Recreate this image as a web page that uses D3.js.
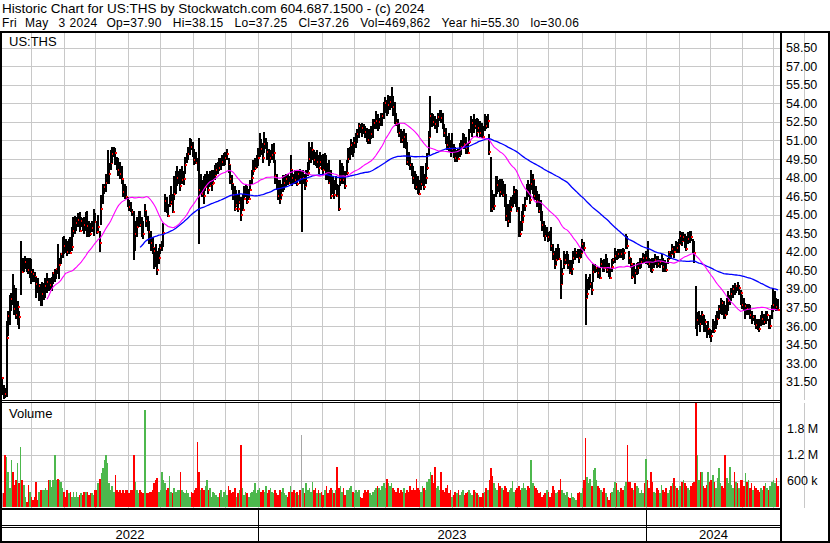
<!DOCTYPE html>
<html><head><meta charset="utf-8">
<script src="https://cdn.jsdelivr.net/npm/d3@7"></script>
<style>
html,body{margin:0;padding:0;background:#fff;}
svg{display:block;}
text{font-family:"Liberation Sans",Arial,sans-serif;font-size:13px;fill:#000;}
</style></head><body>
<svg id="chart" width="830" height="543"></svg>
<script>
// ---------- DATA ----------
const headerLine1 = "Historic Chart for US:THS by Stockwatch.com 604.687.1500 - (c) 2024";
const headerLine2Fields = ["Fri", "May", "3", "2024", "Op=37.90", "Hi=38.15", "Lo=37.25", "Cl=37.26", "Vol=469,862", "Year hi=55.30", "lo=30.06"];
const symbol = "US:THS";
// trading days shown per month, May 2022 .. May 2024
const tradingDaysPerMonth = [19,21,20,21,21,21,21,21, 21,20,21,20,22,21,20,22,20,22,21,20,21,20, 21,20,20,22,3];
const yearLabels = ["2022","2023","2024"];
const yearFirstMonth = [0, 8, 20];
const priceTicks = [31.5,33,34.5,36,37.5,39,40.5,42,43.5,45,46.5,48,49.5,51,52.5,54,55.5,57,58.5];
const volumeTicks = [600000,1200000,1800000];
const volumeTickLabels = ["600 k","1.2 M","1.8 M"];
const maShortPeriod = 30, maLongPeriod = 90;

const highs = [
31.9,31.2,31.0,36.4,37.2,38.5,38.7,40.2,39.3,39.1,
38.0,37.2,42.9,41.5,41.5,41.7,41.5,41.5,41.5,41.4,
40.6,40.4,40.0,39.9,39.4,39.4,39.6,39.5,39.9,40.3,
39.9,39.9,40.0,40.4,40.6,40.6,42.6,41.5,41.9,43.2,
43.3,43.0,42.9,43.0,43.2,44.0,44.8,44.9,44.8,45.1,
45.2,44.8,44.7,44.8,45.2,45.3,44.5,44.3,44.5,45.5,
45.1,44.5,45.0,43.7,46.6,47.5,47.5,48.3,50.2,49.2,
50.2,50.5,50.5,50.4,49.7,49.6,49.3,48.9,47.8,47.5,
47.3,46.4,46.2,46.0,45.5,45.3,44.5,44.8,45.3,45.3,
44.8,44.5,45.9,45.3,44.9,44.5,43.7,43.2,42.3,42.6,
42.1,42.3,42.6,42.9,44.3,46.7,46.4,45.9,46.6,47.3,
46.7,48.1,48.5,48.9,48.5,48.7,48.9,48.5,49.7,50.0,
50.5,51.2,51.1,50.9,50.3,50.1,49.6,51.2,48.3,47.8,
48.1,48.3,48.5,48.3,48.5,48.6,48.6,49.0,49.2,49.3,
49.6,49.6,49.8,50.0,50.1,50.3,49.6,49.0,48.2,47.5,
47.3,47.0,46.6,47.0,46.4,46.7,47.3,47.5,47.3,47.1,
47.8,48.6,49.4,49.6,49.8,50.4,51.6,51.1,50.8,51.7,
51.2,50.9,50.3,50.2,50.7,50.8,49.4,48.3,47.8,47.8,
47.5,48.2,48.2,48.3,48.3,48.1,49.8,48.6,48.3,48.6,
48.5,48.6,48.7,48.5,48.6,48.3,48.6,49.3,50.9,50.5,
50.9,50.2,50.1,50.2,49.8,50.1,49.8,49.9,50.0,49.8,
49.2,49.4,48.6,48.1,47.8,48.1,47.5,47.4,49.4,49.2,
48.9,48.5,49.4,50.4,50.5,51.1,50.9,51.3,51.6,51.9,
52.4,52.3,52.4,52.3,52.2,52.0,51.9,51.9,52.2,52.7,
52.7,53.4,53.1,52.8,53.2,53.2,54.1,54.5,54.3,54.7,
54.6,55.3,54.6,54.1,53.2,52.7,52.4,51.9,51.8,51.9,
51.6,50.9,50.1,49.7,49.2,48.9,48.5,48.3,48.1,47.8,
48.9,48.9,48.3,49.2,50.0,51.8,54.6,53.2,53.1,53.0,
52.7,53.2,53.5,53.5,53.2,52.3,52.0,51.4,51.6,51.0,
51.6,50.7,50.5,50.2,50.3,50.8,51.0,51.6,51.5,51.3,
50.8,51.9,53.0,52.7,53.1,52.7,52.8,52.7,52.6,52.4,
52.2,53.1,53.0,53.1,51.5,49.7,47.0,46.7,48.1,48.1,
47.8,47.9,47.9,47.7,47.5,46.7,45.9,46.2,46.4,46.6,
47.3,47.1,47.0,45.6,44.5,45.3,45.9,46.4,47.5,47.8,
47.5,48.6,48.3,47.8,47.3,46.9,46.7,46.2,45.3,44.5,
44.2,44.0,43.6,43.7,44.0,42.6,42.1,42.3,42.6,42.3,
41.3,40.7,42.1,41.8,42.1,41.8,41.3,41.3,42.1,42.3,
42.1,42.2,42.2,42.3,43.0,42.8,40.2,39.8,40.0,40.2,
39.6,41.0,41.0,40.8,40.8,40.8,41.5,41.3,41.4,41.8,
41.5,41.1,40.7,41.4,41.5,42.3,42.1,42.2,42.2,42.2,
42.3,42.2,43.4,43.3,42.1,41.5,40.9,41.1,40.6,41.1,
41.2,41.5,41.5,41.9,41.8,42.1,42.9,41.5,41.4,41.5,
41.5,41.8,41.7,41.7,41.4,41.8,41.5,41.3,41.1,41.5,
42.1,42.1,42.6,42.5,42.9,42.8,43.0,43.7,43.6,43.6,
43.4,43.3,43.6,43.7,43.7,43.0,42.9,39.2,37.1,37.2,
36.9,37.2,36.9,36.6,36.1,36.4,35.8,35.7,36.6,36.4,
36.9,37.2,37.7,38.3,38.1,38.0,37.7,38.3,38.8,38.5,
39.1,39.3,39.5,39.3,39.6,39.3,38.9,38.5,38.3,37.9,
37.8,37.8,37.7,37.2,36.9,36.9,36.6,36.6,36.6,36.9,
37.2,37.0,37.2,37.2,36.6,36.9,37.7,39.1,38.8,38.3,
38.15];

const lows = [
30.4,30.1,30.2,30.3,35.2,36.1,37.2,37.7,36.9,36.6,
36.1,35.8,38.5,40.3,40.4,40.6,40.4,40.2,39.9,39.4,
39.6,39.6,38.3,38.7,38.0,37.6,37.6,38.1,38.3,38.7,
38.8,38.9,38.8,39.4,39.6,39.8,40.2,39.8,41.0,41.5,
41.8,41.9,41.7,41.8,41.9,42.1,43.2,43.4,43.7,44.0,
43.6,44.0,43.7,43.4,43.7,43.2,43.2,43.3,43.6,43.3,
44.3,43.4,43.7,42.0,44.2,45.9,46.7,46.8,47.5,47.5,
48.6,49.2,49.7,49.0,48.6,48.1,47.9,47.5,46.4,46.3,
46.3,45.6,45.3,45.2,44.9,41.3,42.1,43.2,44.0,44.0,
43.2,43.0,44.8,44.0,43.7,42.6,42.1,41.8,40.6,40.8,
40.1,41.0,41.8,42.1,42.4,45.2,45.1,44.8,45.6,45.9,
45.1,46.2,46.7,47.3,47.5,46.9,47.5,47.4,48.3,49.2,
49.4,49.8,50.2,49.7,49.0,49.1,48.5,42.6,46.7,46.4,
45.9,46.9,47.2,46.7,47.2,46.9,47.5,47.8,48.2,48.3,
48.5,48.6,48.9,48.9,49.0,49.4,48.4,47.5,47.0,46.2,
45.3,45.6,45.2,45.9,44.5,45.3,46.2,46.4,45.9,46.2,
46.9,47.5,48.2,48.6,48.8,48.9,49.7,49.8,49.2,50.0,
50.3,49.4,48.9,49.2,49.4,49.2,47.5,47.0,46.2,45.9,
46.3,46.8,47.0,47.2,47.4,47.5,47.5,47.3,47.5,47.5,
47.3,47.8,47.5,43.6,47.5,47.0,47.3,48.1,48.6,49.2,
49.4,49.0,48.9,48.8,48.3,48.9,48.6,48.3,48.6,47.8,
47.8,47.5,46.3,46.7,46.3,47.0,46.4,45.3,47.3,47.5,
47.5,47.1,48.2,49.2,49.4,49.8,49.7,50.0,50.4,50.8,
51.2,51.6,51.3,51.5,51.2,50.9,50.7,50.7,51.1,51.2,
51.9,51.9,51.8,51.9,52.2,52.2,52.7,53.2,53.0,53.1,
53.5,53.6,53.0,52.3,52.2,51.6,51.3,50.8,50.8,50.4,
50.3,49.0,48.9,48.6,48.1,47.5,47.1,47.0,46.7,46.6,
47.0,47.3,47.0,47.5,48.6,49.8,51.3,52.1,52.2,51.9,
51.6,52.1,52.6,52.4,51.9,51.3,50.7,50.2,50.1,49.7,
50.0,49.6,49.3,49.3,49.4,49.7,49.8,50.5,50.3,49.9,
49.9,50.7,51.6,51.3,51.6,51.9,51.3,51.7,51.3,51.2,
51.2,51.8,51.9,52.0,49.8,45.2,45.2,45.4,46.4,46.7,
46.8,46.4,46.6,46.4,45.6,44.5,44.0,44.3,45.3,45.6,
45.9,45.6,45.2,43.2,43.2,43.7,44.5,45.3,46.2,46.4,
45.9,47.0,46.7,46.2,46.2,45.6,45.1,44.5,43.7,43.2,
42.9,43.2,42.8,42.9,42.1,41.3,40.6,40.9,41.3,41.3,
38.2,39.4,40.6,41.0,41.0,40.6,40.2,40.1,41.0,41.3,
41.5,41.5,41.1,41.5,41.9,42.1,36.1,38.3,38.9,39.1,
38.5,39.6,40.3,40.4,39.9,39.8,40.7,40.4,40.4,40.8,
40.3,40.0,39.8,40.4,41.0,41.1,41.3,41.4,41.5,41.5,
41.3,41.4,42.2,42.2,41.0,40.7,39.8,40.0,39.4,40.1,
40.2,40.6,40.7,41.1,41.1,41.0,40.9,40.7,40.4,40.3,
40.7,40.9,40.7,40.8,40.7,40.9,40.4,40.4,40.4,41.0,
41.4,41.4,41.8,41.5,42.1,41.9,41.9,42.6,42.5,42.9,
42.3,42.1,42.6,42.7,42.9,41.9,41.1,35.8,35.2,36.1,
35.5,36.1,35.5,35.5,35.0,35.3,35.0,34.7,35.4,35.4,
35.8,36.1,36.6,37.0,36.9,36.6,36.6,36.9,37.2,37.7,
38.0,38.3,38.5,38.7,38.8,38.5,37.7,37.4,37.2,36.6,
36.9,36.9,36.6,36.2,36.4,36.1,35.8,35.7,35.5,36.0,
36.1,36.1,36.2,36.4,35.8,35.8,36.6,37.1,37.4,37.2,
37.25];

const closes = [
31.8,30.6,30.5,35.0,36.8,37.6,38.2,38.0,37.4,36.9,
37.5,36.7,40.5,40.4,40.9,41.2,41.0,40.5,40.8,40.4,
40.2,40.0,39.4,39.0,39.2,37.9,38.6,38.9,39.2,39.6,
39.0,39.3,39.6,40.3,40.5,40.6,40.5,40.9,41.8,42.9,
42.5,42.3,42.0,42.1,41.9,42.4,43.7,44.0,44.3,44.6,
43.7,44.5,44.4,44.2,44.3,44.1,43.5,43.4,43.9,44.6,
44.4,43.6,44.0,42.7,45.5,46.8,47.2,47.6,47.7,48.3,
49.2,49.9,50.2,50.0,49.0,48.6,48.3,47.9,46.8,46.7,
46.4,45.9,45.6,45.4,45.2,42.5,43.4,44.0,44.6,44.2,
44.0,43.4,45.3,44.5,44.2,43.6,42.7,42.3,42.1,41.7,
40.5,41.5,42.3,42.6,43.5,46.1,45.4,44.9,45.9,46.0,
45.2,46.7,47.5,48.0,48.3,47.3,47.8,47.9,49.0,49.5,
49.9,50.8,50.5,49.8,49.4,49.2,48.6,47.0,47.3,46.7,
46.5,47.2,47.4,47.0,47.3,47.5,47.6,48.2,48.6,48.9,
48.8,49.0,49.3,49.5,49.6,49.9,49.0,47.9,47.5,46.6,
45.5,45.8,45.5,46.0,45.0,45.4,46.3,46.8,46.0,46.3,
47.0,48.0,48.5,48.8,49.1,49.6,50.6,50.3,49.6,50.7,
50.8,50.1,49.3,49.6,49.8,50.0,48.1,47.3,46.5,46.3,
46.6,47.4,47.6,47.9,47.8,47.6,48.6,48.0,47.7,47.8,
47.5,48.3,47.9,47.9,48.0,47.3,47.7,48.4,49.5,49.7,
50.2,49.4,49.1,49.3,48.8,49.3,48.9,48.6,49.2,48.3,
47.9,47.6,46.5,47.0,46.6,47.2,46.5,45.5,47.8,48.0,
47.8,47.3,48.4,49.5,49.9,50.6,50.2,50.8,51.0,51.5,
52.2,52.1,52.0,51.9,51.7,51.3,51.0,51.2,51.5,52.2,
52.4,52.6,52.2,52.5,52.6,53.0,53.6,54.0,53.7,53.9,
54.1,54.2,53.7,52.7,52.4,52.0,51.6,51.1,51.0,51.3,
50.5,49.3,49.2,49.0,48.4,48.0,47.5,47.2,46.9,46.7,
47.5,47.6,47.2,48.0,48.8,51.3,53.0,52.9,52.5,52.3,
52.4,52.9,53.0,52.8,52.2,51.6,51.3,50.6,50.4,50.2,
50.3,49.9,49.6,49.7,49.5,50.2,50.5,51.2,50.7,50.4,
50.0,50.9,52.2,52.4,52.0,52.2,51.7,52.0,51.6,51.4,
51.3,52.5,52.2,52.6,50.1,45.8,45.5,45.7,47.0,47.4,
47.0,46.8,47.4,46.6,45.7,44.9,44.5,45.3,45.6,46.3,
46.8,46.3,45.3,44.0,43.4,44.4,44.9,45.7,47.1,46.8,
46.2,47.5,47.8,46.5,46.4,46.1,45.3,44.7,44.2,43.7,
43.3,43.5,43.2,43.0,42.5,41.8,40.9,41.3,41.5,41.4,
39.4,40.2,41.0,41.3,41.6,40.9,40.3,40.6,41.5,41.7,
41.9,41.8,41.5,41.9,42.6,42.3,38.3,38.6,39.2,39.4,
38.9,40.4,40.6,40.7,40.3,39.9,41.0,40.8,40.7,41.3,
40.5,40.1,39.9,40.8,41.3,41.7,41.5,41.8,42.0,41.8,
41.5,41.9,43.0,42.5,41.5,41.0,40.0,40.4,40.3,40.5,
40.7,40.9,41.2,41.5,41.4,41.5,41.1,41.0,40.8,40.5,
41.2,41.3,41.1,41.0,41.2,41.3,40.8,40.6,40.5,41.4,
42.0,41.8,42.2,42.0,42.6,42.3,42.6,43.3,42.9,43.2,
42.8,42.2,43.0,43.4,43.2,42.1,41.9,36.1,36.5,36.8,
36.2,36.9,36.4,36.3,35.5,35.8,35.4,35.2,36.0,35.6,
36.4,36.6,37.4,38.0,37.9,37.1,36.9,37.9,38.0,38.2,
38.6,39.0,38.9,39.2,38.9,39.1,38.7,37.7,37.5,37.6,
37.4,37.5,36.9,36.6,36.7,36.3,36.1,35.9,35.8,36.4,
36.6,36.3,36.5,36.9,35.9,36.0,37.4,37.7,38.1,37.5,
37.26];

// daily volume, thousands of shares
const volumesK = [
310,320,1190,1150,810,430,1080,810,500,620,
1000,540,1380,620,500,240,120,500,350,240,
160,240,580,160,350,390,390,390,430,390,
620,620,465,620,1190,620,650,620,580,430,
350,240,390,310,350,240,350,240,350,240,
280,310,280,350,350,350,280,310,310,280,
390,390,540,650,770,890,1080,1190,1000,540,
390,470,350,730,390,350,390,310,390,310,
390,390,310,390,390,1190,580,390,310,390,
350,310,2220,310,310,350,350,390,540,620,
660,350,390,810,620,540,390,430,700,350,
310,430,350,390,390,810,390,350,310,390,
310,240,350,310,390,430,1500,810,390,430,
390,470,620,390,430,240,350,310,280,240,
310,390,240,350,390,280,470,390,310,350,
430,240,310,390,1420,430,280,350,310,240,
310,350,390,540,310,390,430,350,390,350,
470,310,390,430,350,310,390,310,280,390,
350,430,310,280,240,350,470,350,390,310,
350,280,390,1650,430,310,540,390,430,350,
580,390,430,310,390,310,350,280,390,470,
310,390,430,390,310,390,920,430,470,350,
430,280,390,390,430,470,350,310,390,350,
390,240,200,310,390,350,390,310,280,350,
390,430,470,430,390,470,540,430,650,540,
470,540,430,390,350,430,310,390,350,430,
310,390,350,470,390,430,390,650,430,390,
350,470,430,390,580,650,810,740,540,920,
430,470,390,810,390,350,430,500,310,390,
240,280,350,310,390,270,350,390,280,310,
350,390,310,280,390,350,310,280,240,240,
310,350,430,390,620,890,700,540,430,390,
540,470,430,390,470,430,350,390,430,590,
350,390,430,470,390,430,540,430,390,470,
430,1080,540,470,430,390,310,350,240,280,
310,390,350,240,310,470,390,310,350,390,
650,390,310,280,350,240,200,310,240,200,
160,310,350,310,430,620,1570,690,540,650,
470,850,890,620,470,430,390,350,430,310,
240,160,310,350,430,580,540,390,350,430,
390,470,580,1420,580,580,430,390,540,470,
430,310,390,310,540,1110,620,430,810,580,
350,310,430,390,310,500,390,350,430,310,
390,470,540,660,470,430,390,470,580,620,
540,470,430,390,470,540,580,2500,1190,620,
810,810,470,430,500,810,580,620,740,580,
430,660,890,540,470,430,1190,660,540,920,
500,430,810,580,540,430,620,620,470,770,
580,620,430,540,390,470,430,390,350,430,
390,470,540,430,390,470,580,620,540,660,
470];

// ---------- CHART ----------
const N = closes.length;
const svg = d3.select("#chart");
const W = 830, H = 543;
const plotL = 2, plotR = 780;
const priceTop = 33, priceBot = 400;
const volTop = 403, volBot = 507.5;

const x = d3.scaleLinear().domain([0, N - 1]).range([2, 778]);
const yP = d3.scaleLinear().domain([31.5, 58.5]).range([381.7, 47.7]);
const yV = d3.scaleLinear().domain([0, 2400000]).range([507, 402.2]);

svg.append("rect").attr("width", W).attr("height", H).attr("fill", "#fff");

const defs = svg.append("defs");
defs.append("clipPath").attr("id", "clipP").append("rect")
  .attr("x", plotL).attr("y", priceTop).attr("width", plotR - plotL).attr("height", priceBot - priceTop);
defs.append("clipPath").attr("id", "clipV").append("rect")
  .attr("x", plotL).attr("y", volTop).attr("width", plotR - plotL).attr("height", volBot - volTop);

// month boundaries
const monthStarts = [];
let acc = 0;
tradingDaysPerMonth.forEach(d => { monthStarts.push(acc); acc += d; });
const gridCol = "#c8c8c8";
const grid = svg.append("g").attr("shape-rendering", "crispEdges");
monthStarts.slice(1).forEach(ms => {
  const gx = Math.round(x(ms)) + 0.5;
  grid.append("line").attr("x1", gx).attr("x2", gx).attr("y1", priceTop).attr("y2", priceBot).attr("stroke", gridCol);
  grid.append("line").attr("x1", gx).attr("x2", gx).attr("y1", volTop).attr("y2", volBot).attr("stroke", gridCol);
});
priceTicks.forEach(t => {
  const gy = Math.round(yP(t)) + 0.5;
  grid.append("line").attr("x1", plotL).attr("x2", plotR).attr("y1", gy).attr("y2", gy).attr("stroke", gridCol);
});
volumeTicks.forEach(t => {
  const gy = Math.round(yV(t)) + 0.5;
  grid.append("line").attr("x1", plotL).attr("x2", plotR).attr("y1", gy).attr("y2", gy).attr("stroke", gridCol);
});

function movingAvg(arr, p) {
  const out = [];
  for (let i = p - 1; i < arr.length; i++) {
    out.push({ i: i, v: d3.mean(arr.slice(i - p + 1, i + 1)) });
  }
  return out;
}
const line = d3.line().x(d => x(d.i)).y(d => yP(d.v));

// price bars with close marks, drawn bar by bar
const pg = svg.append("g").attr("clip-path", "url(#clipP)").attr("shape-rendering", "crispEdges");
const barG = pg.selectAll("g.b").data(closes).enter().append("g");
barG.append("rect")
  .attr("x", (d, i) => Math.round(x(i)) - 1)
  .attr("y", (d, i) => Math.round(yP(highs[i])))
  .attr("width", 2)
  .attr("height", (d, i) => Math.max(1, Math.round(yP(lows[i])) - Math.round(yP(highs[i]))))
  .attr("fill", "#000");
barG.append("rect")
  .attr("x", (d, i) => Math.round(x(i)))
  .attr("y", d => Math.round(yP(d)) - 1)
  .attr("width", 2).attr("height", 2).attr("fill", "#ff0000");

const lg = svg.append("g").attr("clip-path", "url(#clipP)");
lg.append("path").datum(movingAvg(closes, maLongPeriod)).attr("d", line)
  .attr("fill", "none").attr("stroke", "#0000ff").attr("stroke-width", 1.3);
lg.append("path").datum(movingAvg(closes, maShortPeriod)).attr("d", line)
  .attr("fill", "none").attr("stroke", "#ff00ff").attr("stroke-width", 1.1);

// volume bars
const vg = svg.append("g").attr("clip-path", "url(#clipV)").attr("shape-rendering", "crispEdges");
const half = (x(1) - x(0)) / 2;
vg.selectAll("rect").data(volumesK).enter().append("rect")
  .attr("x", (d, i) => Math.round(x(i) - half))
  .attr("width", (d, i) => Math.max(1, Math.round(x(i) + half) - Math.round(x(i) - half)))
  .attr("y", d => yV(d * 1000))
  .attr("height", d => yV(0) - yV(d * 1000))
  .attr("fill", (d, i) => {
    if (i === 0 || closes[i] === closes[i - 1]) return "#a8a8a8";
    return closes[i] > closes[i - 1] ? "#4db84d" : "#ff0000";
  });

// frame
const fr = svg.append("g").attr("shape-rendering", "crispEdges").attr("fill", "#000");
fr.append("rect").attr("x", 0).attr("y", 31).attr("width", W).attr("height", 2);
fr.append("rect").attr("x", 0).attr("y", 31).attr("width", 2).attr("height", 512);
fr.append("rect").attr("x", 780).attr("y", 31).attr("width", 2).attr("height", 512);
fr.append("rect").attr("x", 828).attr("y", 31).attr("width", 2).attr("height", 512);
fr.append("rect").attr("x", 0).attr("y", 400).attr("width", 782).attr("height", 1);
fr.append("rect").attr("x", 0).attr("y", 402).attr("width", 782).attr("height", 1);
fr.append("rect").attr("x", 0).attr("y", 508).attr("width", 782).attr("height", 2);
fr.append("rect").attr("x", 0).attr("y", 525).attr("width", 782).attr("height", 1);
fr.append("rect").attr("x", 0).attr("y", 527).attr("width", 782).attr("height", 1);
fr.append("rect").attr("x", 0).attr("y", 541).attr("width", W).attr("height", 2);
yearFirstMonth.slice(1).forEach(m => {
  const bx = Math.round(x(monthStarts[m]));
  fr.append("rect").attr("x", bx).attr("y", 509).attr("width", 1).attr("height", 33);
});

// texts
svg.append("text").attr("x", 2).attr("y", 13).style("font-size", "13.5px").text(headerLine1);
const h2 = svg.append("text").attr("x", 2).attr("y", 27).style("font-size", "12px").style("letter-spacing", "0.3px");
const fieldGap = [0, 8, 10, 4, 9, 11, 11, 11, 11, 11, 11];
headerLine2Fields.forEach((f, k) => {
  h2.append("tspan").attr("dx", k === 0 ? 0 : fieldGap[k]).text(f);
});
svg.append("text").attr("x", 9).attr("y", 46).text(symbol);
svg.append("text").attr("x", 9).attr("y", 418).text("Volume");

priceTicks.forEach(t => {
  svg.append("text").attr("x", 786).attr("y", yP(t) + 4.5).style("font-size", "12.5px").text(d3.format(".2f")(t));
});
volumeTicks.forEach((t, k) => {
  svg.append("text").attr("x", 787).attr("y", yV(t) + 4.5).style("font-size", "12.5px").text(volumeTickLabels[k]);
});
yearLabels.forEach((lab, k) => {
  const a = k === 0 ? 2 : x(monthStarts[yearFirstMonth[k]]);
  const b = k < yearLabels.length - 1 ? x(monthStarts[yearFirstMonth[k + 1]]) : 781;
  svg.append("text").attr("x", (a + b) / 2).attr("y", 539).attr("text-anchor", "middle").text(lab);
});
</script>
</body></html>
